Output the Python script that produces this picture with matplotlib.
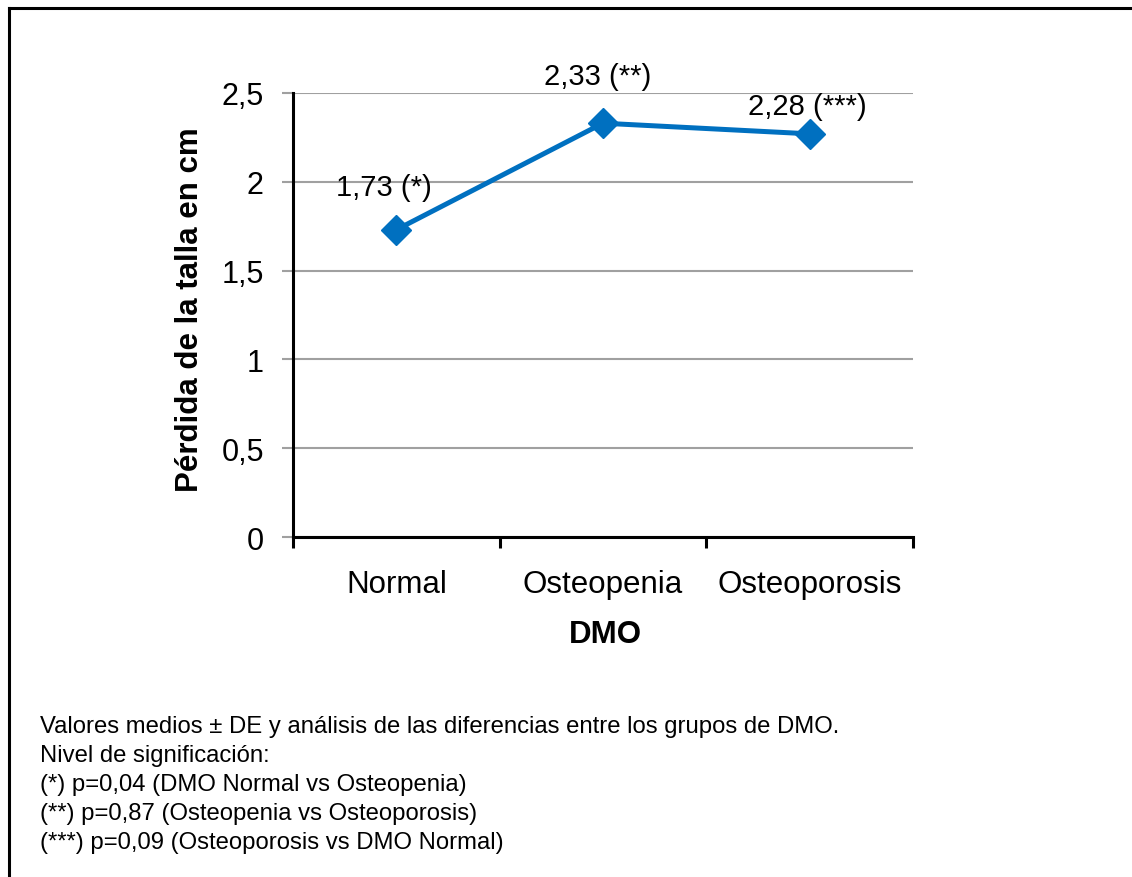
import matplotlib
matplotlib.use("Agg")
import matplotlib.pyplot as plt
from matplotlib.lines import Line2D

plt.rcParams['font.family'] = ['Liberation Sans', 'DejaVu Sans']

categories = ['Normal', 'Osteopenia', 'Osteoporosis']
height_loss = [1.73, 2.33, 2.27]
point_labels = ['1,73 (*)', '2,33 (**)', '2,28 (***)']
label_offsets = [(-9, 31), (-4, 34), (-2, 20)]  # points
y_ticks = [0, 0.5, 1, 1.5, 2, 2.5]
y_tick_labels = ['0', '0,5', '1', '1,5', '2', '2,5']
footer_lines = [
    'Valores medios \u00b1 DE y an\u00e1lisis de las diferencias entre los grupos de DMO.',
    'Nivel de significaci\u00f3n:',
    '(*) p=0,04 (DMO Normal vs Osteopenia)',
    '(**) p=0,87 (Osteopenia vs Osteoporosis)',
    '(***) p=0,09 (Osteoporosis vs DMO Normal)',
]

W, H = 1132, 878
fig = plt.figure(figsize=(W / 100, H / 100), dpi=100)
ax = fig.add_axes([293 / W, 1 - 538 / H, 620 / W, 444 / H])

xs = [i + 0.5 for i in range(len(categories))]
blue = '#0070C0'
ax.plot(xs, height_loss, color=blue, lw=3.6, marker='D', markersize=15,
        markeredgecolor=blue, markerfacecolor=blue, zorder=3, clip_on=False)

for x, y, lab, off in zip(xs, height_loss, point_labels, label_offsets):
    ax.annotate(lab, (x, y), xytext=off, textcoords='offset points',
                ha='center', va='center', fontsize=21)

ax.set_xlim(0, 3)
ax.set_ylim(0, 2.5)
ax.set_yticks(y_ticks)
ax.set_yticklabels(y_tick_labels, fontsize=22)
ax.yaxis.grid(True, color='#A0A0A0', lw=1.5)
ax.set_axisbelow(True)
ax.tick_params(axis='y', direction='out', length=8, width=1.5, color='#A0A0A0', pad=13)

ax.set_xticks([0, 1, 2, 3])
ax.set_xticklabels([])
ax.set_xticks(xs, minor=True)
ax.set_xticklabels(categories, minor=True, fontsize=22.5)
ax.tick_params(axis='x', which='major', direction='out', length=8, width=2.2, color='black')
ax.tick_params(axis='x', which='minor', length=0, pad=23)

for s in ['top', 'right']:
    ax.spines[s].set_visible(False)
ax.spines['left'].set_linewidth(2.2)
ax.spines['bottom'].set_linewidth(2.2)
ax.spines['left'].set_zorder(4)
ax.spines['bottom'].set_zorder(4)

fig.text(190 / W, 1 - 310 / H, 'P\u00e9rdida de la talla en cm', rotation=90,
         ha='center', va='center', fontsize=22.5, fontweight='bold')
fig.text(605 / W, 1 - 635 / H, 'DMO', ha='center', va='center',
         fontsize=22.5, fontweight='bold')

for i, line in enumerate(footer_lines):
    fig.text(40 / W, 1 - (733 + i * 29) / H, line, ha='left', va='baseline', fontsize=17.2)

# outer frame (top and left only)
fig.add_artist(Line2D([9 / W, 1], [1 - 9 / H, 1 - 9 / H], color='black', lw=2.2, transform=fig.transFigure))
fig.add_artist(Line2D([9 / W, 9 / W], [0, 1 - 9 / H], color='black', lw=2.2, transform=fig.transFigure))

fig.savefig('out.png', dpi=100)
